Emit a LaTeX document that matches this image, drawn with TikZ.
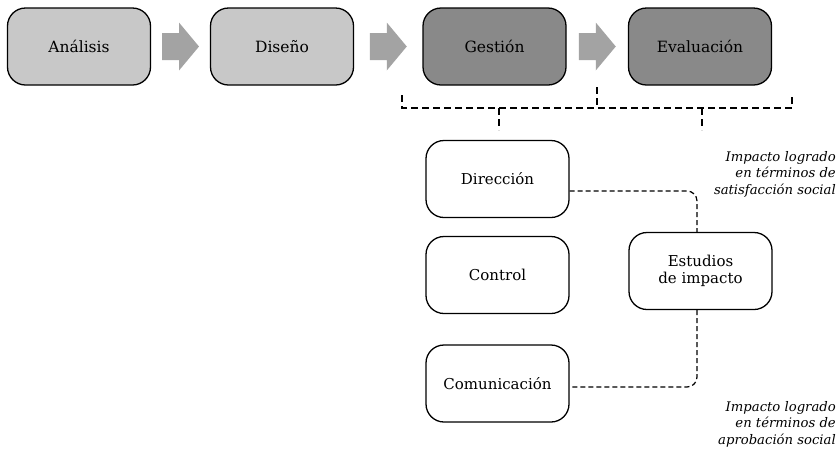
\documentclass[tikz,border=0pt]{standalone}
\usepackage{fontspec}
\setmainfont{DejaVu Serif}
\usetikzlibrary{calc}
\definecolor{lightbox}{HTML}{C8C8C8}
\definecolor{darkbox}{HTML}{898989}
\definecolor{arrowc}{HTML}{A3A3A3}
\tikzset{
  box/.style={draw=black, line width=1.3pt, rounded corners=18pt, minimum width=143pt, minimum height=77pt, inner sep=0pt, font=\fontsize{15.5}{17}\selectfont, align=center},
  phase/.style={box},
  lightphase/.style={phase, fill=lightbox},
  darkphase/.style={phase, fill=darkbox},
  subbox/.style={box, fill=white, font=\fontsize{15}{16.5}\selectfont},
  blockarrow/.pic={\fill[arrowc] (-18.5,-13.5) -- (-1.5,-13.5) -- (-1.5,-24) -- (18.5,0) -- (-1.5,24) -- (-1.5,13.5) -- (-18.5,13.5) -- cycle;},
  bracket/.style={draw=black, line width=1.8pt, dash pattern=on 7pt off 4pt},
  link/.style={draw=black, line width=1.2pt, dash pattern=on 5pt off 3pt, rounded corners=10pt},
  note/.style={font=\fontsize{13.2}{16.5}\selectfont\itshape, align=right, anchor=east, inner sep=0pt}
}
\begin{document}
\begin{tikzpicture}[x=1pt,y=-1pt]
\useasboundingbox (0,0) rectangle (840,448);
% top row
\node[lightphase] (ana) at (79,46.5) {Análisis};
\node[lightphase] (dis) at (282,46.5) {Diseño};
\node[darkphase] (ges) at (494.5,46.5) {Gestión};
\node[darkphase] (eva) at (700,46.5) {Evaluación};
\coordinate (m1) at ($(ana.east)!0.5!(dis.west)$);
\coordinate (m2) at ($(dis.east)!0.5!(ges.west)$);
\coordinate (m3) at ($(ges.east)!0.5!(eva.west)$);
\pic (a1) at (m1) {blockarrow};
\pic (a2) at (m2) {blockarrow};
\pic (a3) at (m3) {blockarrow};
% bracket
\coordinate (bl) at (402,95);
\coordinate (blc) at (402,108);
\coordinate (brc) at (792,108);
\coordinate (br) at (792,95);
\coordinate (bm) at (597,87);
\coordinate (bmc) at (597,108);
\coordinate (bu1) at (499,108);
\coordinate (bd1) at (499,130);
\coordinate (bu2) at (702,108);
\coordinate (bd2) at (702,130);
\draw[bracket] (bl) -- (blc) -- (brc) -- (br);
\draw[bracket] (bm) -- (bmc);
\draw[bracket] (bu1) -- (bd1);
\draw[bracket] (bu2) -- (bd2);
% lower boxes
\node[subbox] (dir) at (497.5,179) {Dirección};
\node[subbox] (con) at (497.5,275) {Control};
\node[subbox] (com) at (497.5,383.5) {Comunicación};
\node[subbox] (est) at (700.5,271) {Estudios\\de impacto};
\coordinate (c1) at (697,191);
\coordinate (c2) at (697,387);
\draw[link] (dir.east |- c1) -- (c1) -- (c1 |- est.north);
\draw[link] (c2 |- est.south) -- (c2) -- (com.east |- c2);
% notes
\node[note] (n1) at (836,174) {Impacto logrado\\en términos de\\satisfacción social};
\node[note] (n2) at (836,424) {Impacto logrado\\en términos de\\aprobación social};
\end{tikzpicture}
\end{document}
